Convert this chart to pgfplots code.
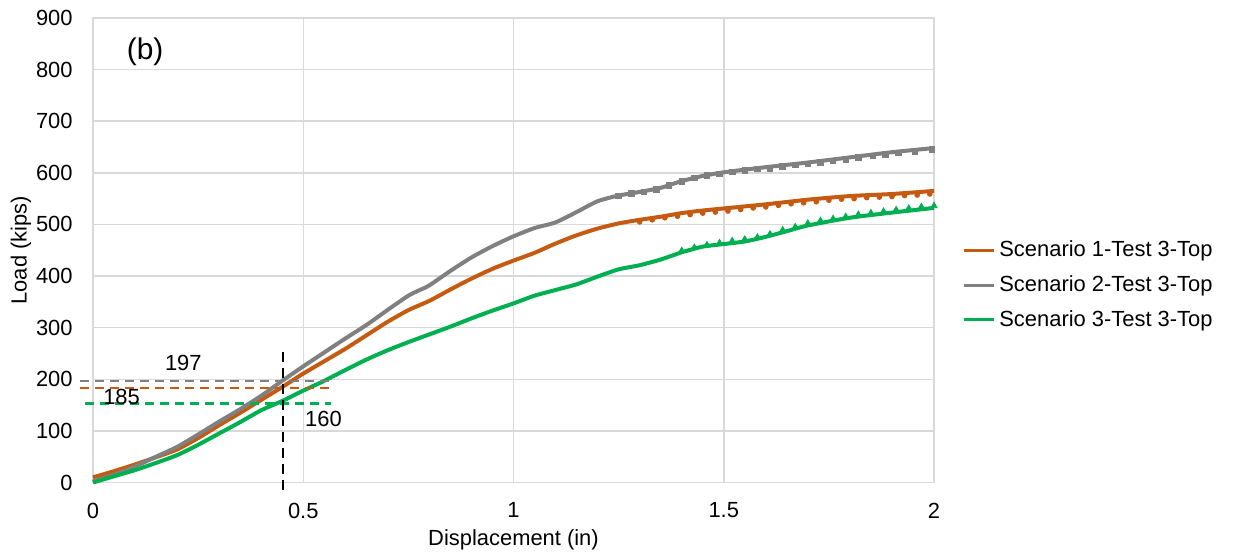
\documentclass[border=0pt]{standalone}
\usepackage{fontspec}
\setmainfont{Liberation Sans}
\usepackage{pgfplots}
\usepackage{pgfplotstable}
\pgfplotsset{compat=1.18}
\definecolor{sone}{RGB}{197,90,17}
\definecolor{stwo}{RGB}{128,128,128}
\definecolor{sthree}{RGB}{0,176,80}
\definecolor{gridc}{RGB}{217,217,217}

\pgfplotstableread{
x y
0 10
0.05 22
0.1 35
0.15 49
0.2 64
0.25 86
0.3 111
0.35 135
0.4 160
0.45 185
0.5 211
0.55 235
0.6 259
0.65 285
0.7 311
0.75 334
0.8 352
0.85 374
0.9 395
0.95 414
1.0 430
1.05 445
1.1 463
1.15 479
1.2 492
1.25 502
1.3 509
1.35 515
1.4 522
1.45 527
1.5 531
1.6 539
1.7 548
1.8 555
1.9 559
2.0 565
}\sone

\pgfplotstableread{
x y
0 2
0.05 15
0.1 31
0.15 50
0.2 69
0.25 93
0.3 118
0.35 142
0.4 168
0.45 197
0.5 225
0.55 252
0.6 279
0.65 305
0.7 334
0.75 362
0.78 374
0.8 382
0.85 410
0.9 436
0.95 458
1.0 477
1.05 493
1.1 504
1.15 524
1.2 545
1.25 556
1.3 563
1.35 571
1.4 584
1.45 594
1.5 601
1.6 611
1.7 620
1.8 630
1.9 640
2.0 648
}\stwo

\pgfplotstableread{
x y
0 0
0.05 12
0.1 24
0.15 38
0.2 53
0.25 73
0.3 95
0.35 117
0.4 140
0.45 158
0.5 178
0.55 197
0.6 218
0.65 238
0.7 256
0.75 272
0.8 287
0.85 302
0.9 318
0.95 333
1.0 347
1.05 362
1.1 373
1.15 384
1.2 399
1.25 413
1.3 421
1.35 432
1.4 446
1.45 457
1.5 462
1.55 467
1.6 476
1.65 487
1.7 498
1.8 513
1.9 523
2.0 532
}\sthree

\pgfplotstableread{
x y
1.25 555
1.28 560
1.31 563
1.34 568
1.37 576
1.40 583
1.43 590
1.46 595
1.49 598
1.52 602
1.55 605
1.58 608
1.61 609
1.64 612
1.67 615
1.70 617
1.73 620
1.76 623
1.79 626
1.82 630
1.855 633
1.885 636
1.915 639
1.955 642
1.995 645
}\stwom

\pgfplotstableread{
x y
1.30 505
1.33 509
1.36 513
1.39 516
1.42 519
1.45 522
1.48 524
1.51 526
1.54 529
1.57 532
1.60 534
1.63 537
1.66 540
1.69 542
1.72 544
1.75 547
1.78 549
1.81 550
1.84 552
1.87 553
1.90 554
1.93 556
1.96 557
1.99 559
}\sonem

\pgfplotstableread{
x y
1.40 449
1.43 455
1.46 460
1.49 464
1.52 468
1.55 471
1.58 475
1.61 481
1.64 489
1.67 495
1.70 502
1.73 507
1.76 511
1.79 515
1.82 519
1.85 522
1.88 525
1.91 528
1.94 531
1.97 534
2.00 536
}\sthreem

\begin{document}
\begin{tikzpicture}
\begin{axis}[
  name=ax,
  scale only axis,
  width=420.5bp, height=232.25bp,
  xmin=0, xmax=2, ymin=0, ymax=900,
  xtick={0,0.5,1,1.5,2},
  ytick={0,100,200,300,400,500,600,700,800,900},
  /pgf/number format/assume math mode=true,
  grid=major,
  grid style={gridc, line width=0.75bp},
  axis line style={gridc, line width=0.75bp},
  major tick length=0pt,
  clip=false,
  font=\fontsize{11}{13}\selectfont,
  tick label style={font=\fontsize{11}{13}\selectfont},
  yticklabel style={inner sep=0pt, anchor=east, xshift=-10bp},
  xticklabel style={inner sep=0pt, anchor=north, yshift=-10bp},
  xlabel={Displacement (in)},
  ylabel={Load (kips)},
  xlabel style={at={(axis description cs:0.5,-0.1238)}, anchor=center, font=\fontsize{11}{13}\selectfont},
  ylabel style={at={(axis description cs:-0.0856,0.5)}, anchor=center, font=\fontsize{11}{13}\selectfont},
  legend style={at={(rel axis cs:1,0.425)}, anchor=west, xshift=11bp, draw=none, fill=none,
    font=\fontsize{11}{13}\selectfont, row sep=4bp},
  legend cell align=left,
  legend image code/.code={\draw[#1, line width=1.5bp] (0bp,0bp) -- (15bp,0bp);},
]
\addplot[sone, line width=2bp, smooth, tension=0.4] table[x=x,y=y] {\sone};
\addlegendentry{Scenario 1-Test 3-Top}
\addplot[stwo, line width=2bp, smooth, tension=0.4] table[x=x,y=y] {\stwo};
\addlegendentry{Scenario 2-Test 3-Top}
\addplot[sthree, line width=2bp, smooth, tension=0.4] table[x=x,y=y] {\sthree};
\addlegendentry{Scenario 3-Test 3-Top}

\addplot[forget plot, only marks, mark=square*, mark size=1.4bp, stwo] table[x=x,y=y] {\stwom};
\addplot[forget plot, only marks, mark=*, mark size=1.2bp, sone] table[x=x,y=y] {\sonem};
\addplot[forget plot, only marks, mark=triangle*, mark size=1.8bp, sthree] table[x=x,y=y] {\sthreem};

\addplot[forget plot, stwo, line width=1.1bp, dash pattern=on 4.5bp off 3bp] coordinates {(-0.031,197) (0.571,197)};
\addplot[forget plot, sone, line width=1.1bp, dash pattern=on 4.5bp off 3bp] coordinates {(-0.031,183) (0.575,183)};
\addplot[forget plot, sthree, line width=1.1bp, dash pattern=on 4.5bp off 3bp] coordinates {(-0.019,153) (0.565,153)};
\addplot[forget plot, black, line width=1.25bp, dash pattern=on 5bp off 3bp] coordinates {(0.452,-15) (0.452,262)};

\node[font=\fontsize{11}{13}\selectfont] at (axis cs:0.2148,231) {197};
\node[font=\fontsize{11}{13}\selectfont] at (axis cs:0.068,166) {185};
\node[font=\fontsize{11}{13}\selectfont] at (axis cs:0.548,123) {160};
\node[font=\fontsize{15}{18}\selectfont] at (axis cs:0.124,835) {(b)};
\end{axis}
\pgfresetboundingbox
\path[use as bounding box] ([xshift=-46.5bp,yshift=-36.75bp]ax.south west) rectangle ([xshift=149.5bp,yshift=9bp]ax.north east);
\end{tikzpicture}
\end{document}
